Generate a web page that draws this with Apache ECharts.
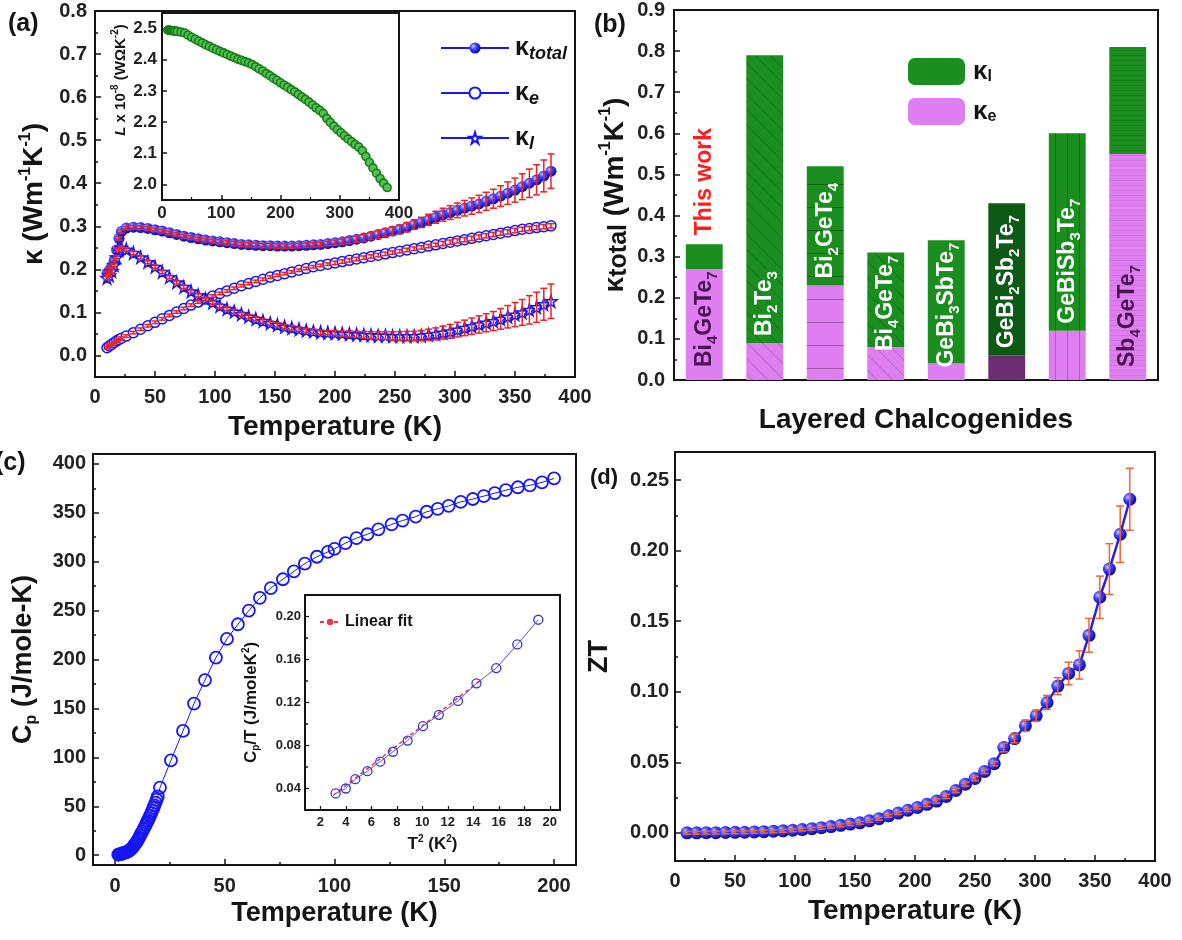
<!DOCTYPE html>
<html><head><meta charset="utf-8">
<script src="https://cdn.jsdelivr.net/npm/echarts@6/dist/echarts.min.js"></script>
<style>html,body{margin:0;padding:0;background:#fff}#c{width:1182px;height:940px}</style>
</head><body><div id="c"></div>
<script>
// ---------------- DATA ----------------
// (a) thermal conductivity vs temperature
const tempA = [10,12,14,16,18,20,22,26,32,38,44,50,56,62,68,74,80,86,92,98,104,110,116,122,128,134,140,146,152,158,164,170,176,182,188,194,200,206,212,218,224,230,236,242,248,254,260,266,272,278,284,290,296,302,308,314,320,326,332,338,344,350,356,362,368,374,380];
const kappaTotal = [0.192,0.198,0.208,0.222,0.245,0.272,0.288,0.296,0.298,0.297,0.295,0.292,0.289,0.285,0.281,0.277,0.274,0.271,0.268,0.266,0.264,0.262,0.260,0.258,0.257,0.256,0.255,0.255,0.254,0.254,0.254,0.255,0.256,0.257,0.258,0.260,0.262,0.264,0.267,0.270,0.273,0.277,0.281,0.285,0.289,0.293,0.298,0.304,0.309,0.315,0.321,0.327,0.332,0.337,0.342,0.347,0.352,0.358,0.364,0.370,0.377,0.384,0.392,0.400,0.408,0.417,0.428];
const kappaE = [0.018,0.022,0.026,0.030,0.034,0.037,0.040,0.045,0.053,0.061,0.069,0.077,0.085,0.093,0.101,0.109,0.117,0.124,0.131,0.138,0.144,0.150,0.156,0.162,0.167,0.172,0.177,0.182,0.186,0.190,0.194,0.198,0.202,0.206,0.209,0.212,0.215,0.218,0.221,0.224,0.227,0.230,0.233,0.236,0.239,0.242,0.245,0.248,0.251,0.254,0.257,0.260,0.263,0.266,0.269,0.272,0.275,0.278,0.281,0.284,0.287,0.290,0.293,0.295,0.297,0.299,0.301];
const kappaL = [0.180,0.186,0.196,0.210,0.228,0.245,0.250,0.246,0.238,0.228,0.217,0.206,0.194,0.182,0.170,0.159,0.149,0.140,0.131,0.123,0.115,0.108,0.102,0.096,0.090,0.085,0.080,0.075,0.071,0.067,0.064,0.061,0.058,0.056,0.054,0.053,0.052,0.051,0.050,0.049,0.048,0.047,0.046,0.046,0.045,0.045,0.045,0.045,0.046,0.048,0.050,0.053,0.056,0.060,0.064,0.068,0.072,0.076,0.080,0.085,0.090,0.095,0.100,0.106,0.112,0.119,0.126];
const errTotal = [0.004,0.004,0.004,0.004,0.004,0.004,0.004,0.004,0.004,0.004,0.004,0.004,0.004,0.004,0.004,0.004,0.004,0.004,0.004,0.004,0.005,0.005,0.005,0.005,0.005,0.005,0.005,0.005,0.005,0.005,0.005,0.005,0.005,0.005,0.005,0.005,0.006,0.006,0.007,0.007,0.008,0.008,0.009,0.009,0.010,0.010,0.011,0.011,0.012,0.013,0.014,0.015,0.016,0.017,0.018,0.019,0.020,0.021,0.022,0.024,0.026,0.028,0.030,0.033,0.035,0.037,0.040];
const errE = [0.003,0.003,0.003,0.003,0.003,0.003,0.003,0.003,0.003,0.003,0.003,0.003,0.003,0.003,0.003,0.003,0.003,0.003,0.003,0.003,0.003,0.003,0.003,0.003,0.003,0.003,0.003,0.003,0.003,0.003,0.003,0.003,0.003,0.003,0.003,0.003,0.004,0.004,0.004,0.004,0.004,0.004,0.004,0.004,0.004,0.004,0.004,0.004,0.004,0.004,0.004,0.005,0.005,0.005,0.005,0.005,0.005,0.005,0.005,0.005,0.005,0.005,0.005,0.005,0.005,0.005,0.005];
const errL = [0.004,0.004,0.004,0.004,0.004,0.004,0.004,0.004,0.004,0.004,0.004,0.004,0.004,0.004,0.004,0.004,0.004,0.004,0.004,0.004,0.005,0.005,0.005,0.005,0.005,0.005,0.005,0.005,0.005,0.005,0.005,0.005,0.005,0.005,0.005,0.005,0.006,0.006,0.007,0.007,0.008,0.008,0.009,0.009,0.010,0.010,0.011,0.011,0.012,0.013,0.014,0.015,0.016,0.017,0.018,0.019,0.020,0.021,0.022,0.024,0.026,0.028,0.030,0.033,0.035,0.037,0.040];
// (a) inset: Lorenz number (x 10^-8)
const lorenz = [2.495,2.495,2.494,2.494,2.493,2.493,2.492,2.491,2.489,2.486,2.479,2.472,2.466,2.460,2.454,2.448,2.443,2.437,2.432,2.427,2.422,2.417,2.412,2.407,2.402,2.398,2.394,2.390,2.385,2.378,2.371,2.364,2.356,2.349,2.341,2.334,2.326,2.319,2.312,2.304,2.297,2.289,2.281,2.273,2.264,2.255,2.246,2.238,2.228,2.212,2.199,2.187,2.176,2.166,2.156,2.146,2.137,2.128,2.120,2.108,2.090,2.071,2.053,2.036,2.019,2.004,1.990];
// (b) layered chalcogenides
const materials = ['Bi4GeTe7','Bi2Te3','Bi2GeTe4','Bi4GeTe7','GeBi3SbTe7','GeBi2Sb2Te7','GeBiSb3Te7','Sb4GeTe7'];
const kappaTotalB = [0.33,0.79,0.52,0.31,0.34,0.43,0.60,0.81];
const kappaEB = [0.27,0.09,0.23,0.08,0.04,0.06,0.12,0.55];
// (c) heat capacity
const tempCLow = [1.5,2,2.5,3,3.5,4,4.5,5,5.5,6,6.5,7,7.5,8,8.5,9,9.5,10,10.5,11,11.5,12,12.5,13,13.5,14,14.5,15,15.5,16,16.5,17,17.5,18,18.5,19,19.5];
const cpLow = [0.5,0.8,1.1,1.5,1.9,2.3,2.6,3.0,3.5,4.0,4.8,5.6,6.6,7.8,9.2,10.8,12.4,14.0,15.8,17.8,20.0,22.2,24.4,26.6,28.8,31.0,33.2,35.5,37.9,40.4,43.0,45.6,48.3,51.0,53.8,56.8,60.0];
const tempCHigh = [20.5,25.5,31,36,41,46,51,56,61,66,71,76.5,81.5,86.5,92,97,100,105,110,115,120,126,131,137,142,147,152,157.5,163,168,173,178,183.5,189,194.5,200];
const cpHigh = [69,97,127,155,179,202,221,236,250,263,273,282,290,298,305,310,313,319,324,328,333,338,342,346,351,354,357,361,364,367,370,373,376,378,381,385];
// (c) inset
const tSquared = [3.2,4.0,4.75,5.7,6.7,7.7,8.85,10.05,11.3,12.8,14.25,15.8,17.45,19.1];
const cpOverT = [0.0354,0.0400,0.0487,0.0561,0.0650,0.0742,0.0846,0.0980,0.1085,0.1215,0.1378,0.1520,0.1740,0.1970];
const fitT2 = [3.0,14.5];
const fitCpT = [0.0335,0.1401];
// (d) ZT
const tempD = [10,18,26,34,42,50,58,66,74,82,90,98,106,114,122,130,138,146,154,162,170,178,186,194,202,210,218,226,234,242,250,258,266,274,283,292,301,310,319,328,337,345,354,362,371,379];
const zt = [0.0000,0.0000,0.0001,0.0001,0.0002,0.0003,0.0004,0.0006,0.0008,0.0011,0.0014,0.0018,0.0023,0.0029,0.0036,0.0044,0.0053,0.0062,0.0071,0.0085,0.0100,0.0120,0.0140,0.0160,0.0180,0.0202,0.0225,0.0258,0.0300,0.0345,0.0385,0.0435,0.0490,0.0604,0.0668,0.0759,0.0830,0.0924,0.1040,0.1130,0.1190,0.1400,0.1670,0.1870,0.2117,0.2365];
const errZT = [0.001,0.001,0.001,0.001,0.001,0.001,0.001,0.001,0.001,0.001,0.001,0.001,0.001,0.001,0.001,0.001,0.001,0.001,0.001,0.001,0.001,0.001,0.001,0.001,0.001,0.0015,0.0015,0.0015,0.0015,0.0015,0.0015,0.0015,0.0015,0.003,0.003,0.004,0.004,0.005,0.006,0.008,0.010,0.012,0.015,0.018,0.020,0.022];
// tick labels
const ticksAY = [0,0.1,0.2,0.3,0.4,0.5,0.6,0.7,0.8];
const minorAY = [-0.05,0.05,0.15,0.25,0.35,0.45,0.55,0.65,0.75];
const ticksAIY = [2.0,2.1,2.2,2.3,2.4,2.5];
const ticksCX = [0,50,100,150,200];
const minorCX = [25,75,125,175];
const ticksCY = [0,50,100,150,200,250,300,350,400];
const minorCY = [25,75,125,175,225,275,325,375];
const ticksCIX = [2,4,6,8,10,12,14,16,18,20];
const ticksCIY = [0.04,0.08,0.12,0.16,0.20];
const minorCIY = [0.06,0.10,0.14,0.18];
const ticksDY = [0,0.05,0.10,0.15,0.20,0.25];
const minorDY = [0.025,0.075,0.125,0.175,0.225];

// ---------------- STYLE ----------------
const F = "'Liberation Sans', Arial, sans-serif";
const INK = '#141414';
const BLUE = '#1616f5';
const RED = '#ee2222';
const GREEN = '#1a8f20', DGREEN = '#0d5a17', PINK = '#df7ef0', DPINK = '#6b2d72';
const sphere = {type:'radial', x:0.35, y:0.35, r:0.7, colorStops:[{offset:0,color:'#d0d0ff'},{offset:0.35,color:'#4b4bff'},{offset:1,color:'#0000b0'}]};
const STAR = 'path://M50,0 L61,35 L98,35 L68,57 L79,91 L50,70 L21,91 L32,57 L2,35 L39,35 Z';

function merge(a, b) {
  const o = Object.assign({}, a);
  for (const k in b) {
    const bv = b[k];
    if (bv && typeof bv === 'object' && !Array.isArray(bv) && a[k] && typeof a[k] === 'object' && !Array.isArray(a[k])) o[k] = merge(a[k], bv);
    else o[k] = bv;
  }
  return o;
}
const richSS = (fs) => ({
  sup: {fontSize: fs, fontWeight: 'bold', fontFamily: F, color: INK, verticalAlign: 'top'},
  sub: {fontSize: fs, fontWeight: 'bold', fontFamily: F, color: INK, verticalAlign: 'bottom'}
});
const baseAxis = {
  type: 'value',
  axisLine: {show: true, onZero: false, lineStyle: {color: INK, width: 2}},
  axisTick: {show: true, inside: true, length: 6, lineStyle: {color: INK, width: 1.5}},
  minorTick: {show: false},
  axisLabel: {color: '#222', fontFamily: F, fontWeight: 'bold', fontSize: 20},
  splitLine: {show: false},
  nameLocation: 'middle',
  nameTextStyle: {color: INK, fontFamily: F, fontWeight: 'bold', fontSize: 28}
};
const ax = (o) => merge(baseAxis, o);
function minorAxis(gridIndex, min, max, vals, pos) {
  return {type: 'value', gridIndex, min, max, position: pos,
    axisLine: {show: false, onZero: false}, axisLabel: {show: false}, splitLine: {show: false},
    axisTick: {show: true, inside: true, length: 3, customValues: vals, lineStyle: {color: INK, width: 1.5}}};
}
function errBars(color, cap, lw) {
  return function (params, api) {
    const x = api.value(0), y = api.value(1), e = api.value(2);
    const hi = api.coord([x, y + e]), lo = api.coord([x, y - e]);
    const st = {stroke: color, lineWidth: lw};
    return {type: 'group', children: [
      {type: 'line', shape: {x1: hi[0], y1: hi[1], x2: lo[0], y2: lo[1]}, style: st},
      {type: 'line', shape: {x1: hi[0] - cap, y1: hi[1], x2: hi[0] + cap, y2: hi[1]}, style: st},
      {type: 'line', shape: {x1: lo[0] - cap, y1: lo[1], x2: lo[0] + cap, y2: lo[1]}, style: st}
    ]};
  };
}
const zip = (a, b) => a.map((v, i) => [v, b[i]]);
const zip3 = (a, b, c) => a.map((v, i) => [v, b[i], c[i]]);
const richName = (s) => s.replace(/(\d)/g, '{s|$1}');

function matLabel(color, dist) {
  return {show: true, position: 'insideBottom', rotate: 90, align: 'left', verticalAlign: 'middle',
    distance: dist, color, fontSize: 23, fontWeight: 'bold', fontFamily: F, lineHeight: 32, overflow: 'none',
    formatter: (p) => richName(materials[p.dataIndex]),
    rich: {s: {fontSize: 15, fontWeight: 'bold', fontFamily: F, color, verticalAlign: 'bottom'}}};
}
const thisWork = {show: true, position: 'top', rotate: 90, align: 'left', verticalAlign: 'middle', distance: 5, overflow: 'none',
  color: '#ff1e1e', fontSize: 23, fontWeight: 'bold', fontFamily: F, formatter: 'This work', offset: [4, 0]};
const dec = (rot, gap, alpha) => ({symbol: 'rect', symbolSize: 1, dashArrayX: [1, 0], dashArrayY: [1, gap], rotation: rot, color: 'rgba(0,0,0,' + alpha + ')'});
const barDecals = [null, dec(Math.PI / 4, 10, 0.16), dec(0, 22, 0.3), dec(Math.PI / 4, 10, 0.16), null, null, dec(Math.PI / 2, 11, 0.22), dec(0, 4, 0.08)];

const gridStyle = {show: true, borderColor: INK, borderWidth: 2, backgroundColor: 'transparent'};

const option = {
  animation: false,
  backgroundColor: '#fff',
  grid: [
    Object.assign({left: 95, top: 11, width: 480, height: 366}, gridStyle),
    Object.assign({left: 162, top: 13, width: 237, height: 187}, gridStyle, {backgroundColor: '#fff'}),
    Object.assign({left: 674, top: 10, width: 484, height: 370}, gridStyle),
    Object.assign({left: 93, top: 454, width: 483, height: 411}, gridStyle),
    Object.assign({left: 305, top: 595, width: 255, height: 215}, gridStyle, {backgroundColor: '#fff'}),
    Object.assign({left: 675, top: 452, width: 480, height: 409}, gridStyle)
  ],
  xAxis: [
    ax({gridIndex: 0, min: 0, max: 400, interval: 50, minorTick: {show: true, splitNumber: 2, length: 3, lineStyle: {color: INK, width: 1.5}},
      axisLabel: {margin: 10}, name: 'Temperature (K)', nameGap: 36}),
    ax({gridIndex: 1, min: 0, max: 400, interval: 100, minorTick: {show: true, splitNumber: 2, length: 3, lineStyle: {color: INK, width: 1.2}},
      axisTick: {length: 5}, axisLabel: {fontSize: 17, margin: 5}}),
    ax({type: 'category', gridIndex: 2, data: materials.map((m, i) => String(i)), axisTick: {show: false}, axisLabel: {show: false},
      name: 'Layered Chalcogenides', nameGap: 26}),
    ax({gridIndex: 3, min: -10, max: 210, axisTick: {customValues: ticksCX}, axisLabel: {customValues: ticksCX, margin: 11},
      name: 'Temperature (K)', nameGap: 35, nameTextStyle: {fontSize: 27}}),
    ax({gridIndex: 4, min: 0.8, max: 20.8, axisTick: {customValues: ticksCIX, length: 4, lineStyle: {width: 1.2}},
      axisLabel: {customValues: ticksCIX, fontSize: 13, margin: 6},
      name: 'T{sup|2} (K{sup|2})', nameGap: 24, nameTextStyle: {fontSize: 17, lineHeight: 20, rich: richSS(10)}}),
    ax({gridIndex: 5, min: 0, max: 400, interval: 50, minorTick: {show: true, splitNumber: 2, length: 3, lineStyle: {color: INK, width: 1.5}},
      axisLabel: {margin: 10}, name: 'Temperature (K)', nameGap: 36}),
    minorAxis(3, -10, 210, minorCX, 'bottom')
  ],
  yAxis: [
    ax({gridIndex: 0, min: -0.05, max: 0.8, axisTick: {customValues: ticksAY}, axisLabel: {customValues: ticksAY, margin: 8, formatter: (v) => v.toFixed(1)},
      name: 'κ (Wm{sup|-1}K{sup|-1})', nameGap: 45, nameTextStyle: {lineHeight: 32, rich: richSS(16)}}),
    ax({gridIndex: 1, min: 1.95, max: 2.55, axisTick: {customValues: ticksAIY, length: 5}, axisLabel: {customValues: ticksAIY, fontSize: 17, margin: 5, formatter: (v) => v.toFixed(1)}}),
    ax({gridIndex: 2, min: 0, max: 0.9, interval: 0.1, minorTick: {show: true, splitNumber: 2, length: 3, lineStyle: {color: INK, width: 1.5}},
      axisLabel: {margin: 9, formatter: (v) => v.toFixed(1)},
      name: 'κ{sub|total} (Wm{sup|-1}K{sup|-1})', nameGap: 42, nameTextStyle: {lineHeight: 34, rich: {
        sup: {fontSize: 16, fontWeight: 'bold', fontFamily: F, color: INK, verticalAlign: 'top'},
        sub: {fontSize: 25, fontWeight: 'bold', fontFamily: F, color: INK, verticalAlign: 'bottom', padding: [6, 0, 0, 0]}}}}),
    ax({gridIndex: 3, min: -10, max: 410, axisTick: {customValues: ticksCY}, axisLabel: {customValues: ticksCY, margin: 7},
      name: 'C{sub|p} (J/mole-K)', nameGap: 53, nameTextStyle: {fontSize: 27, lineHeight: 32, rich: richSS(16)}}),
    ax({gridIndex: 4, min: 0.02, max: 0.22, axisTick: {customValues: ticksCIY, length: 4, lineStyle: {width: 1.2}},
      axisLabel: {customValues: ticksCIY, fontSize: 13, margin: 4, formatter: (v) => v.toFixed(2)},
      name: 'C{sub|p}/T (J/moleK{sup|2})', nameGap: 44, nameTextStyle: {fontSize: 17, lineHeight: 20, rich: richSS(10)}}),
    ax({gridIndex: 5, min: -0.02, max: 0.27, axisTick: {customValues: ticksDY}, axisLabel: {customValues: ticksDY, margin: 6, formatter: (v) => v.toFixed(2)},
      name: 'ZT', nameGap: 62, nameTextStyle: {fontSize: 27}}),
    minorAxis(0, -0.05, 0.8, minorAY, 'left'),
    minorAxis(3, -10, 410, minorCY, 'left'),
    minorAxis(5, -0.02, 0.27, minorDY, 'left'),
    minorAxis(4, 0.02, 0.22, minorCIY, 'left')
  ],
  legend: [
    {left: 435, top: 28, orient: 'vertical', itemWidth: 68, itemHeight: 14, itemGap: 15, selectedMode: false,
      data: ['kt', 'ke', 'kl'],
      formatter: (n) => ({kt: 'κ{s|total}', ke: 'κ{s|e}', kl: 'κ{s|l}'})[n],
      textStyle: {fontSize: 25, fontWeight: 'bold', fontFamily: F, color: INK, lineHeight: 30, padding: [0, 0, 0, 1],
        rich: {s: {fontSize: 18, fontWeight: 'bold', fontStyle: 'italic', fontFamily: F, color: INK, verticalAlign: 'bottom'}}}},
    {left: 903, top: 53, orient: 'vertical', itemWidth: 57, itemHeight: 27, itemGap: 13, selectedMode: false,
      data: ['bl', 'be'],
      formatter: (n) => ({bl: 'κ{s|l}', be: 'κ{s|e}'})[n],
      textStyle: {fontSize: 26, fontWeight: 'bold', fontFamily: F, color: INK, lineHeight: 27, padding: [0, 0, 0, 3],
        rich: {s: {fontSize: 16, fontWeight: 'bold', fontFamily: F, color: INK, verticalAlign: 'bottom'}}}},
    {left: 314, top: 609, itemWidth: 20, itemHeight: 8, selectedMode: false, data: ['Linear fit'],
      textStyle: {fontSize: 16, fontWeight: 'bold', fontFamily: F, color: INK}}
  ],
  graphic: [
    {type: 'text', left: 8, top: 12, style: {text: '(a)', fontSize: 25, fontWeight: 'bold', fontFamily: F, fill: INK}},
    {type: 'text', left: 594, top: 13, style: {text: '(b)', fontSize: 25, fontWeight: 'bold', fontFamily: F, fill: INK}},
    {type: 'text', left: -5, top: 451, style: {text: '(c)', fontSize: 25, fontWeight: 'bold', fontFamily: F, fill: INK}},
    {type: 'text', left: 590, top: 467, style: {text: '(d)', fontSize: 22, fontWeight: 'bold', fontFamily: F, fill: INK}},
    {type: 'text', x: 121, y: 80, rotation: Math.PI / 2,
      style: {text: '{i|L} x 10{sup|-8} (WΩK{sup|-2})', align: 'center', verticalAlign: 'middle', fontSize: 15, fontWeight: 'bold', fontFamily: F, fill: INK, lineHeight: 22,
        rich: {i: {fontSize: 15, fontWeight: 'bold', fontStyle: 'italic', fontFamily: F, color: INK}, sup: {fontSize: 10, fontWeight: 'bold', fontFamily: F, color: INK, verticalAlign: 'top'}}}}
  ],
  series: [
    {name: 'kt', type: 'line', xAxisIndex: 0, yAxisIndex: 0, data: zip(tempA, kappaTotal), symbol: 'circle', symbolSize: 11,
      itemStyle: {color: sphere}, lineStyle: {color: BLUE, width: 2}, z: 3},
    {name: 'ke', type: 'line', xAxisIndex: 0, yAxisIndex: 0, data: zip(tempA, kappaE), symbol: 'circle', symbolSize: 10,
      itemStyle: {color: '#ffffff', borderColor: BLUE, borderWidth: 1.5}, lineStyle: {color: BLUE, width: 2}, z: 3},
    {name: 'kl', type: 'line', xAxisIndex: 0, yAxisIndex: 0, data: zip(tempA, kappaL), symbol: STAR, symbolSize: 12,
      itemStyle: {color: '#ffffff', borderColor: BLUE, borderWidth: 1.5}, lineStyle: {color: BLUE, width: 2}, z: 3},
    {type: 'custom', xAxisIndex: 0, yAxisIndex: 0, renderItem: errBars(RED, 3.5, 1.5), data: zip3(tempA, kappaTotal, errTotal), encode: {x: 0, y: 1}, z: 5, silent: true},
    {type: 'custom', xAxisIndex: 0, yAxisIndex: 0, renderItem: errBars(RED, 3.5, 1.5), data: zip3(tempA, kappaE, errE), encode: {x: 0, y: 1}, z: 5, silent: true},
    {type: 'custom', xAxisIndex: 0, yAxisIndex: 0, renderItem: errBars(RED, 3.5, 1.5), data: zip3(tempA, kappaL, errL), encode: {x: 0, y: 1}, z: 5, silent: true},
    {name: 'L', type: 'line', xAxisIndex: 1, yAxisIndex: 1, data: zip(tempA, lorenz), symbol: 'circle', symbolSize: 8,
      itemStyle: {color: '#55c055', borderColor: '#177d17', borderWidth: 1.6}, lineStyle: {color: '#177d17', width: 1.5}, z: 3},
    {name: 'be', type: 'bar', xAxisIndex: 2, yAxisIndex: 2, stack: 'b', barWidth: '61%', itemStyle: {color: PINK},
      data: kappaEB.map((v, i) => {
        const it = {value: v, itemStyle: {color: i === 5 ? DPINK : PINK}};
        if (barDecals[i]) it.itemStyle.decal = barDecals[i];
        it.label = (i === 0 || i === 7) ? matLabel('#4a1252', 13) : {show: false};
        return it;
      })},
    {name: 'bl', type: 'bar', xAxisIndex: 2, yAxisIndex: 2, stack: 'b', barWidth: '61%', itemStyle: {color: GREEN},
      data: kappaTotalB.map((t, i) => {
        const it = {value: +(t - kappaEB[i]).toFixed(3), itemStyle: {color: i === 5 ? DGREEN : GREEN}};
        if (barDecals[i]) it.itemStyle.decal = barDecals[i];
        it.label = i === 0 ? thisWork : (i === 7 ? {show: false} : matLabel('#ffffff', (i === 3 || i === 4) ? -4 : 7));
        return it;
      })},
    {name: 'Cp', type: 'line', xAxisIndex: 3, yAxisIndex: 3, data: zip(tempCLow.concat(tempCHigh), cpLow.concat(cpHigh)), symbol: 'circle', symbolSize: 12,
      itemStyle: {color: 'rgba(255,255,255,0)', borderColor: BLUE, borderWidth: 1.8}, lineStyle: {color: BLUE, width: 1}, z: 3},
    {name: 'CpT', type: 'line', xAxisIndex: 4, yAxisIndex: 4, data: zip(tSquared, cpOverT), symbol: 'circle', symbolSize: 9,
      itemStyle: {color: 'rgba(255,255,255,0)', borderColor: '#3a32d8', borderWidth: 1.3}, lineStyle: {color: '#5050e0', width: 1}, z: 4},
    {name: 'Linear fit', type: 'line', xAxisIndex: 4, yAxisIndex: 4, data: zip(fitT2, fitCpT), symbol: 'none',
      itemStyle: {color: '#e03a4a'}, lineStyle: {color: '#e03a4a', width: 1.5, type: [4, 3]}, z: 3},
    {name: 'ZT', type: 'line', xAxisIndex: 5, yAxisIndex: 5, data: zip(tempD, zt), symbol: 'circle', symbolSize: 13,
      itemStyle: {color: sphere}, lineStyle: {color: '#2a1ee0', width: 2.5}, z: 3},
    {type: 'custom', xAxisIndex: 5, yAxisIndex: 5, renderItem: errBars('#f0642e', 4, 1.5), data: zip3(tempD, zt, errZT), encode: {x: 0, y: 1}, z: 5, silent: true}
  ]
};
const chart = echarts.init(document.getElementById('c'), null, {renderer: 'canvas'});
chart.setOption(option);
</script></body></html>
